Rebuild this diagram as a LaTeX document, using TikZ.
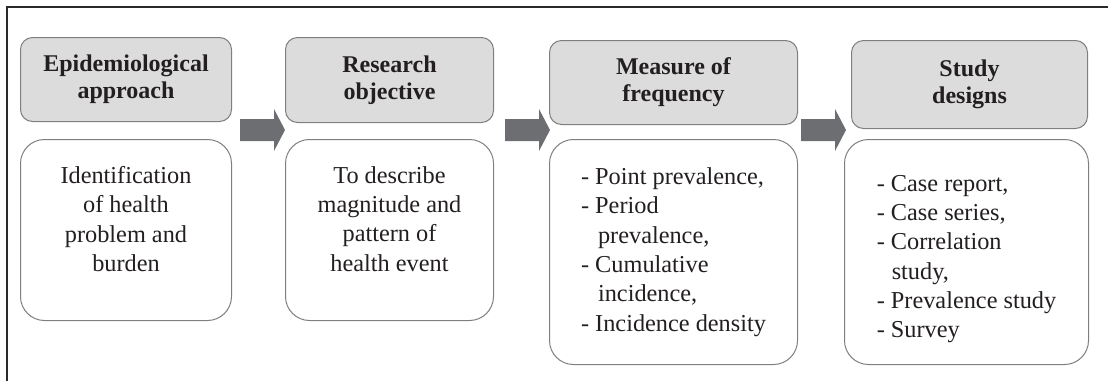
\documentclass[tikz,border=0pt]{standalone}
\usepackage{fontspec}
\setmainfont{Liberation Serif}
\definecolor{hdrfill}{HTML}{DCDCDD}
\definecolor{boxline}{HTML}{7F7F80}
\definecolor{arrowfill}{HTML}{6D6E71}
\definecolor{txt}{HTML}{231F20}
\definecolor{framecol}{HTML}{2A2A2A}
\tikzset{
  hdr/.style={draw=boxline, line width=1pt, fill=hdrfill, rounded corners=12pt,
    anchor=north west, inner sep=0pt, text=txt,
    font=\fontsize{24}{27}\selectfont\bfseries, align=center},
  bodybox/.style={draw=boxline, line width=1pt, fill=white, rounded corners=24pt,
    anchor=north west, inner sep=0pt},
  bodytext/.style={text=txt, font=\fontsize{24.3}{29.3}\selectfont, inner sep=0pt},
  pics/barrow/.style={code={
    \fill[arrowfill] (0,-11) -- (34,-11) -- (34,-21) -- (45,0) -- (34,21) -- (34,11) -- (0,11) -- cycle;}}
}
\begin{document}
\begin{tikzpicture}[x=1pt,y=-1pt]
\useasboundingbox (0,0) rectangle (1108,381);
\draw[framecol, line width=1.5pt] (1108,7) -- (7,7) -- (7,381);

% column 1
\node[hdr, minimum width=211pt, minimum height=84pt] (h1) at (20,37) {Epidemiological\\approach};
\node[bodybox, minimum width=211pt, minimum height=181pt] (b1) at (20,139) {};
\node[bodytext, align=center] (t1) at ([yshift=11pt]b1.center)
  {Identification\\of health\\problem and\\burden};

% column 2
\node[hdr, minimum width=208pt, minimum height=85pt] (h2) at (285,37) {Research\\objective};
\node[bodybox, minimum width=208pt, minimum height=181pt] (b2) at (285,139) {};
\node[bodytext, align=center] (t2) at ([yshift=11pt]b2.center)
  {To describe\\magnitude and\\pattern of\\health event};

% column 3
\node[hdr, minimum width=248pt, minimum height=84pt] (h3) at (549,40) {Measure of\\frequency};
\node[bodybox, minimum width=248pt, minimum height=225pt] (b3) at (549,139) {};
\node[bodytext, align=left] (t3) at (b3.center)
  {- Point prevalence,\\- Period\\\hspace*{17pt}prevalence,\\- Cumulative\\\hspace*{17pt}incidence,\\- Incidence density};

% column 4
\node[hdr, minimum width=236pt, minimum height=88pt] (h4) at (851,40) {Study\\designs};
\node[bodybox, minimum width=244pt, minimum height=225pt] (b4) at (844,139) {};
\node[bodytext, align=left] (t4) at ([yshift=-7pt]b4.center)
  {- Case report,\\- Case series,\\- Correlation\\\hspace*{15pt}study,\\- Prevalence study\\- Survey};

% block arrows
\pic at (240,130) {barrow};
\pic at (505,130) {barrow};
\pic at (801,130) {barrow};
\end{tikzpicture}
\end{document}
